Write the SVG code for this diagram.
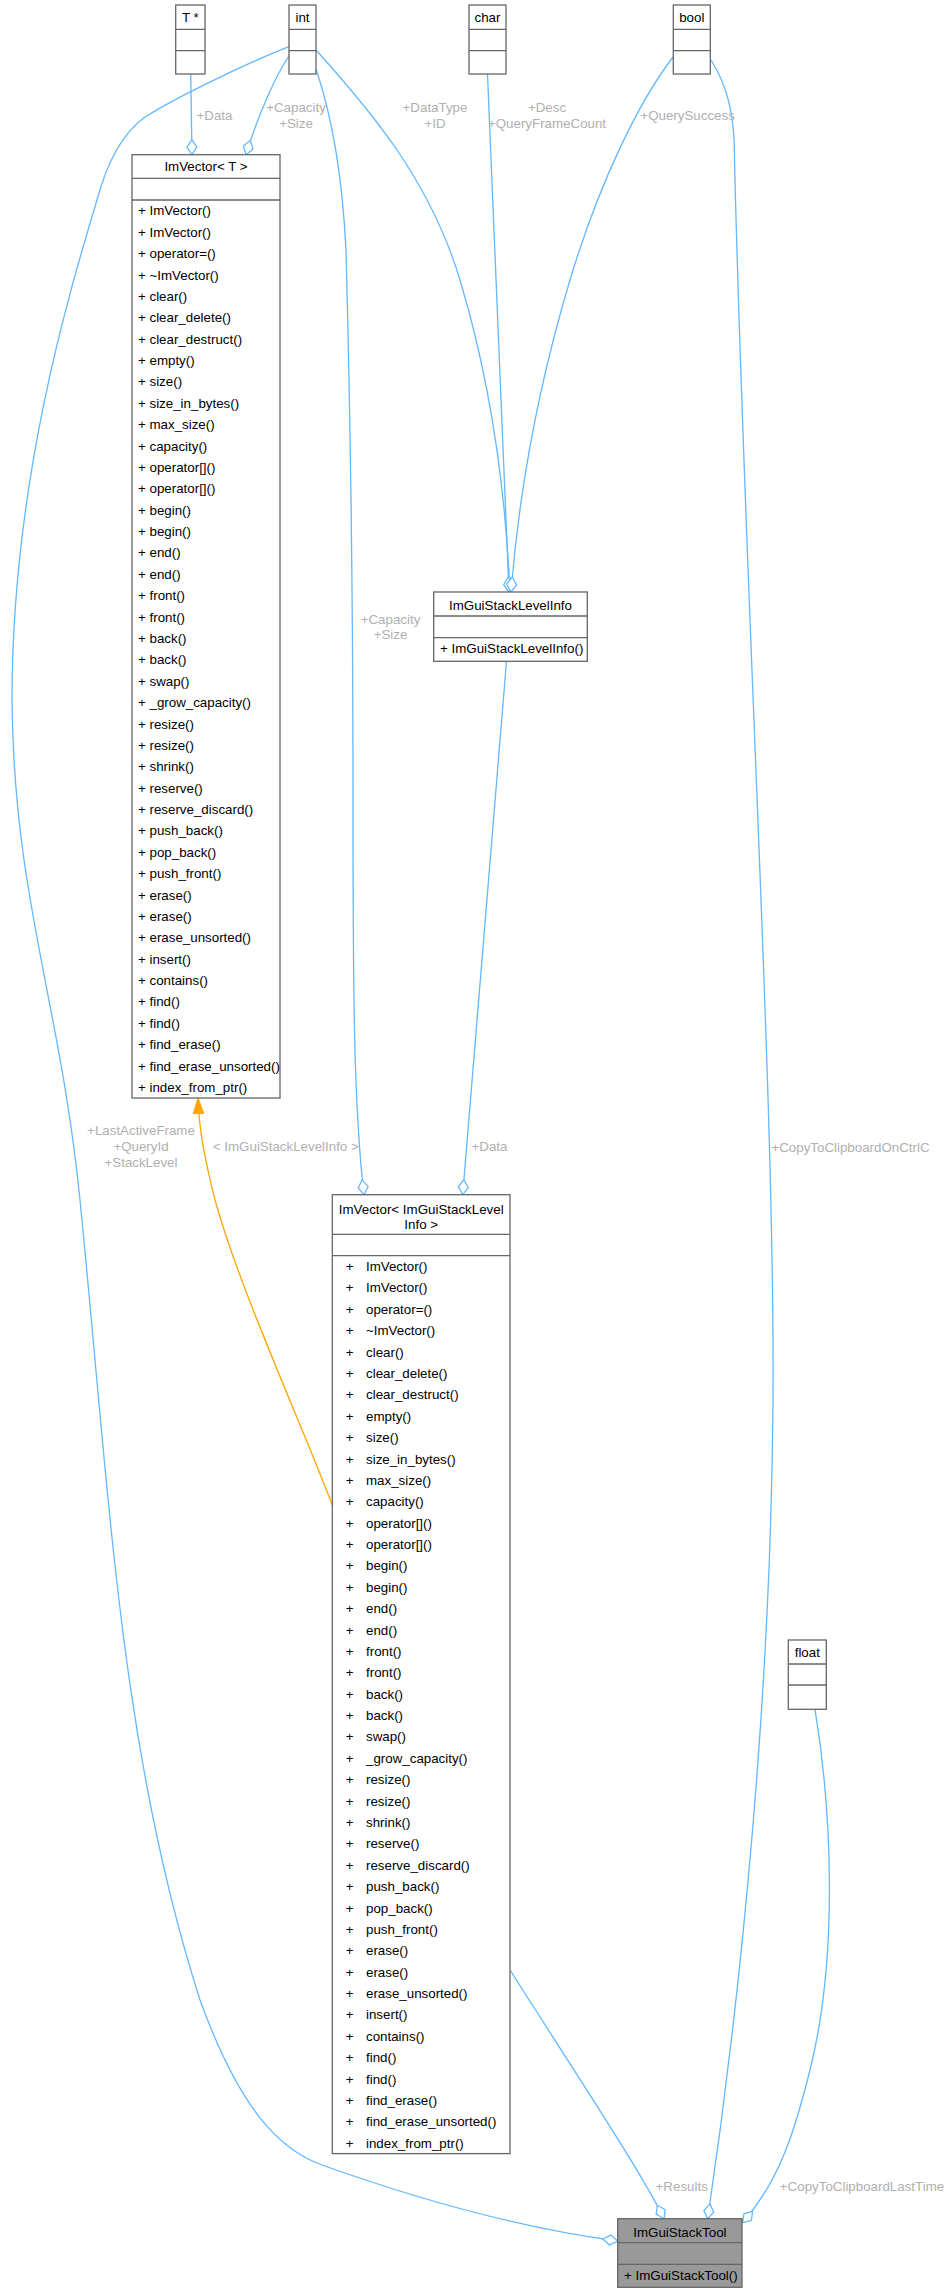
<svg xmlns="http://www.w3.org/2000/svg" width="948" height="2293" viewBox="0 0 948 2293">
<style>
  text { font-family: "Liberation Sans", Arial, sans-serif; font-size: 13.33px; fill: #000000; }
  .box { fill: #ffffff; stroke: #666666; stroke-width: 1.3; }
  .cur { fill: #999999; stroke: #666666; stroke-width: 1.3; }
  .sep { stroke: #666666; stroke-width: 1.3; fill: none; }
  .mid { text-anchor: middle; }
  .lbl { fill: #b0b0b0; text-anchor: middle; }
  .e { fill: none; stroke: #63b8ff; stroke-width: 1.3; marker-end: url(#odia); }
  .o { fill: none; stroke: #ffa500; stroke-width: 1.3; marker-end: url(#tri); }
</style>
<defs>
  <marker id="odia" markerUnits="userSpaceOnUse" viewBox="0 0 16 12" markerWidth="16" markerHeight="12" refX="15.5" refY="6" orient="auto">
    <path d="M0.5,6 L8,1 L15.5,6 L8,11 Z" fill="#ffffff" stroke="#63b8ff" stroke-width="1.3"/>
  </marker>
  <marker id="tri" markerUnits="userSpaceOnUse" viewBox="0 0 16 12" markerWidth="16" markerHeight="12" refX="15.5" refY="6" orient="auto">
    <path d="M0.5,1 L15.5,6 L0.5,11 Z" fill="#ffa500" stroke="#ffa500" stroke-width="1.3"/>
  </marker>
</defs>
<rect x="0" y="0" width="948" height="2293" fill="#ffffff"/>

<g id="connectors">
  <path class="e" d="M190.7,74 L192,154.7"/>
  <path class="e" d="M289.5,55 C276,75 258,115 246,154.7"/>
  <path class="e" d="M289,46.7 C250,62 180,95 145,117 C120,135 105,170 97,200 C70,290 12,480 12,700 C14,900 60,1000 80,1200 C110,1500 120,1750 200,2000 C240,2110 280,2150 322,2165 C420,2200 520,2228 617.7,2241"/>
  <path class="e" d="M316,69 C330,110 342,170 346,250 C350,400 353,600 353,800 C353,1000 354,1110 364,1194.7"/>
  <path class="e" d="M316,50 C370,110 430,180 460,280 C490,380 505,480 510,592"/>
  <path class="e" d="M487.5,74 L509,592"/>
  <path class="e" d="M673,57 C640,100 600,180 570,280 C540,380 520,480 511,592"/>
  <path class="e" d="M711,60 C727,85 735,115 734.5,160 C745,600 775,1100 773,1400 C771,1700 740,2000 707.7,2218.7"/>
  <path class="e" d="M815,1709.3 C830,1800 840,1950 810,2070 C795,2130 780,2180 742.7,2222.7"/>
  <path class="e" d="M510,1970 C580,2080 640,2170 664,2218.7"/>
  <path class="e" d="M506.5,661.3 L462.7,1194.7"/>
  <path class="o" d="M332.3,1505 C300,1420 240,1290 215,1200 C205,1160 199,1130 198,1098.3"/>
  <text class="lbl" x="214.5" y="119.8">+Data</text>
  <text class="lbl" x="296" y="112.2">+Capacity</text>
  <text class="lbl" x="296" y="127.6">+Size</text>
  <text class="lbl" x="435" y="112.2">+DataType</text>
  <text class="lbl" x="435" y="127.6">+ID</text>
  <text class="lbl" x="547" y="112.2">+Desc</text>
  <text class="lbl" x="547" y="127.6">+QueryFrameCount</text>
  <text class="lbl" x="687.6" y="119.8">+QuerySuccess</text>
  <text class="lbl" x="390.5" y="623.7">+Capacity</text>
  <text class="lbl" x="390.5" y="639">+Size</text>
  <text class="lbl" x="141" y="1135.4">+LastActiveFrame</text>
  <text class="lbl" x="141" y="1151.4">+QueryId</text>
  <text class="lbl" x="141" y="1167.4">+StackLevel</text>
  <text class="lbl" x="285.8" y="1151.4">&lt; ImGuiStackLevelInfo &gt;</text>
  <text class="lbl" x="489.5" y="1151.4">+Data</text>
  <text class="lbl" x="850.5" y="1152">+CopyToClipboardOnCtrlC</text>
  <text class="lbl" x="681.7" y="2191.4">+Results</text>
  <text class="lbl" x="862" y="2191.4">+CopyToClipboardLastTime</text>
</g>

<g id="node-tptr">
  <rect class="box" x="175.7" y="5" width="29.3" height="69"/>
  <path class="sep" d="M175.7,29.3 H205 M175.7,50.7 H205"/>
  <text class="mid" x="190.4" y="22">T *</text>
</g>
<g id="node-int">
  <rect class="box" x="289" y="5" width="27" height="69"/>
  <path class="sep" d="M289,29.3 H316 M289,50.7 H316"/>
  <text class="mid" x="302.5" y="22">int</text>
</g>
<g id="node-char">
  <rect class="box" x="469" y="5" width="37" height="69"/>
  <path class="sep" d="M469,29.3 H506 M469,50.7 H506"/>
  <text class="mid" x="487.5" y="22">char</text>
</g>
<g id="node-bool">
  <rect class="box" x="673.3" y="5" width="37" height="69"/>
  <path class="sep" d="M673.3,29.3 H710.3 M673.3,50.7 H710.3"/>
  <text class="mid" x="691.8" y="22">bool</text>
</g>
<g id="node-float">
  <rect class="box" x="788.3" y="1640" width="38" height="69.3"/>
  <path class="sep" d="M788.3,1664 H826.3 M788.3,1685 H826.3"/>
  <text class="mid" x="807.3" y="1656.7">float</text>
</g>

<g id="node-imvector-t">
  <rect class="box" x="132" y="154.7" width="148" height="943.3"/>
  <path class="sep" d="M132,178.3 H280 M132,200 H280"/>
  <text class="mid" x="206" y="171.2">ImVector&lt; T &gt;</text>
  <text x="138" y="215.4"><tspan x="138">+ ImVector()</tspan><tspan x="138" dy="21.38">+ ImVector()</tspan><tspan x="138" dy="21.38">+ operator=()</tspan><tspan x="138" dy="21.38">+ ~ImVector()</tspan><tspan x="138" dy="21.38">+ clear()</tspan><tspan x="138" dy="21.38">+ clear_delete()</tspan><tspan x="138" dy="21.38">+ clear_destruct()</tspan><tspan x="138" dy="21.38">+ empty()</tspan><tspan x="138" dy="21.38">+ size()</tspan><tspan x="138" dy="21.38">+ size_in_bytes()</tspan><tspan x="138" dy="21.38">+ max_size()</tspan><tspan x="138" dy="21.38">+ capacity()</tspan><tspan x="138" dy="21.38">+ operator[]()</tspan><tspan x="138" dy="21.38">+ operator[]()</tspan><tspan x="138" dy="21.38">+ begin()</tspan><tspan x="138" dy="21.38">+ begin()</tspan><tspan x="138" dy="21.38">+ end()</tspan><tspan x="138" dy="21.38">+ end()</tspan><tspan x="138" dy="21.38">+ front()</tspan><tspan x="138" dy="21.38">+ front()</tspan><tspan x="138" dy="21.38">+ back()</tspan><tspan x="138" dy="21.38">+ back()</tspan><tspan x="138" dy="21.38">+ swap()</tspan><tspan x="138" dy="21.38">+ _grow_capacity()</tspan><tspan x="138" dy="21.38">+ resize()</tspan><tspan x="138" dy="21.38">+ resize()</tspan><tspan x="138" dy="21.38">+ shrink()</tspan><tspan x="138" dy="21.38">+ reserve()</tspan><tspan x="138" dy="21.38">+ reserve_discard()</tspan><tspan x="138" dy="21.38">+ push_back()</tspan><tspan x="138" dy="21.38">+ pop_back()</tspan><tspan x="138" dy="21.38">+ push_front()</tspan><tspan x="138" dy="21.38">+ erase()</tspan><tspan x="138" dy="21.38">+ erase()</tspan><tspan x="138" dy="21.38">+ erase_unsorted()</tspan><tspan x="138" dy="21.38">+ insert()</tspan><tspan x="138" dy="21.38">+ contains()</tspan><tspan x="138" dy="21.38">+ find()</tspan><tspan x="138" dy="21.38">+ find()</tspan><tspan x="138" dy="21.38">+ find_erase()</tspan><tspan x="138" dy="21.38">+ find_erase_unsorted()</tspan><tspan x="138" dy="21.38">+ index_from_ptr()</tspan></text>
</g>

<g id="node-imguistacklevelinfo">
  <rect class="box" x="433.7" y="592" width="153.6" height="69.3"/>
  <path class="sep" d="M433.7,616 H587.3 M433.7,637.7 H587.3"/>
  <text class="mid" x="510.5" y="609.6">ImGuiStackLevelInfo</text>
  <text x="440" y="653.4">+ ImGuiStackLevelInfo()</text>
</g>

<g id="node-imvector-isli">
  <rect class="box" x="332.3" y="1194.7" width="177.7" height="958.9"/>
  <path class="sep" d="M332.3,1234.3 H510 M332.3,1255.7 H510"/>
  <text class="mid" x="421.2" y="1213.7">ImVector&lt; ImGuiStackLevel</text>
  <text class="mid" x="421.2" y="1229">Info &gt;</text>
  <text x="345.7" y="1271.1"><tspan x="345.7">+</tspan><tspan x="345.7" dy="21.38">+</tspan><tspan x="345.7" dy="21.38">+</tspan><tspan x="345.7" dy="21.38">+</tspan><tspan x="345.7" dy="21.38">+</tspan><tspan x="345.7" dy="21.38">+</tspan><tspan x="345.7" dy="21.38">+</tspan><tspan x="345.7" dy="21.38">+</tspan><tspan x="345.7" dy="21.38">+</tspan><tspan x="345.7" dy="21.38">+</tspan><tspan x="345.7" dy="21.38">+</tspan><tspan x="345.7" dy="21.38">+</tspan><tspan x="345.7" dy="21.38">+</tspan><tspan x="345.7" dy="21.38">+</tspan><tspan x="345.7" dy="21.38">+</tspan><tspan x="345.7" dy="21.38">+</tspan><tspan x="345.7" dy="21.38">+</tspan><tspan x="345.7" dy="21.38">+</tspan><tspan x="345.7" dy="21.38">+</tspan><tspan x="345.7" dy="21.38">+</tspan><tspan x="345.7" dy="21.38">+</tspan><tspan x="345.7" dy="21.38">+</tspan><tspan x="345.7" dy="21.38">+</tspan><tspan x="345.7" dy="21.38">+</tspan><tspan x="345.7" dy="21.38">+</tspan><tspan x="345.7" dy="21.38">+</tspan><tspan x="345.7" dy="21.38">+</tspan><tspan x="345.7" dy="21.38">+</tspan><tspan x="345.7" dy="21.38">+</tspan><tspan x="345.7" dy="21.38">+</tspan><tspan x="345.7" dy="21.38">+</tspan><tspan x="345.7" dy="21.38">+</tspan><tspan x="345.7" dy="21.38">+</tspan><tspan x="345.7" dy="21.38">+</tspan><tspan x="345.7" dy="21.38">+</tspan><tspan x="345.7" dy="21.38">+</tspan><tspan x="345.7" dy="21.38">+</tspan><tspan x="345.7" dy="21.38">+</tspan><tspan x="345.7" dy="21.38">+</tspan><tspan x="345.7" dy="21.38">+</tspan><tspan x="345.7" dy="21.38">+</tspan><tspan x="345.7" dy="21.38">+</tspan></text>
  <text x="366" y="1271.1"><tspan x="366">ImVector()</tspan><tspan x="366" dy="21.38">ImVector()</tspan><tspan x="366" dy="21.38">operator=()</tspan><tspan x="366" dy="21.38">~ImVector()</tspan><tspan x="366" dy="21.38">clear()</tspan><tspan x="366" dy="21.38">clear_delete()</tspan><tspan x="366" dy="21.38">clear_destruct()</tspan><tspan x="366" dy="21.38">empty()</tspan><tspan x="366" dy="21.38">size()</tspan><tspan x="366" dy="21.38">size_in_bytes()</tspan><tspan x="366" dy="21.38">max_size()</tspan><tspan x="366" dy="21.38">capacity()</tspan><tspan x="366" dy="21.38">operator[]()</tspan><tspan x="366" dy="21.38">operator[]()</tspan><tspan x="366" dy="21.38">begin()</tspan><tspan x="366" dy="21.38">begin()</tspan><tspan x="366" dy="21.38">end()</tspan><tspan x="366" dy="21.38">end()</tspan><tspan x="366" dy="21.38">front()</tspan><tspan x="366" dy="21.38">front()</tspan><tspan x="366" dy="21.38">back()</tspan><tspan x="366" dy="21.38">back()</tspan><tspan x="366" dy="21.38">swap()</tspan><tspan x="366" dy="21.38">_grow_capacity()</tspan><tspan x="366" dy="21.38">resize()</tspan><tspan x="366" dy="21.38">resize()</tspan><tspan x="366" dy="21.38">shrink()</tspan><tspan x="366" dy="21.38">reserve()</tspan><tspan x="366" dy="21.38">reserve_discard()</tspan><tspan x="366" dy="21.38">push_back()</tspan><tspan x="366" dy="21.38">pop_back()</tspan><tspan x="366" dy="21.38">push_front()</tspan><tspan x="366" dy="21.38">erase()</tspan><tspan x="366" dy="21.38">erase()</tspan><tspan x="366" dy="21.38">erase_unsorted()</tspan><tspan x="366" dy="21.38">insert()</tspan><tspan x="366" dy="21.38">contains()</tspan><tspan x="366" dy="21.38">find()</tspan><tspan x="366" dy="21.38">find()</tspan><tspan x="366" dy="21.38">find_erase()</tspan><tspan x="366" dy="21.38">find_erase_unsorted()</tspan><tspan x="366" dy="21.38">index_from_ptr()</tspan></text>
</g>

<g id="node-imguistacktool">
  <rect class="cur" x="617.7" y="2218.7" width="124.3" height="68.6"/>
  <path class="sep" d="M617.7,2242.7 H742 M617.7,2264.3 H742"/>
  <text class="mid" x="679.9" y="2237">ImGuiStackTool</text>
  <text x="624" y="2279.7">+ ImGuiStackTool()</text>
</g>
</svg>
